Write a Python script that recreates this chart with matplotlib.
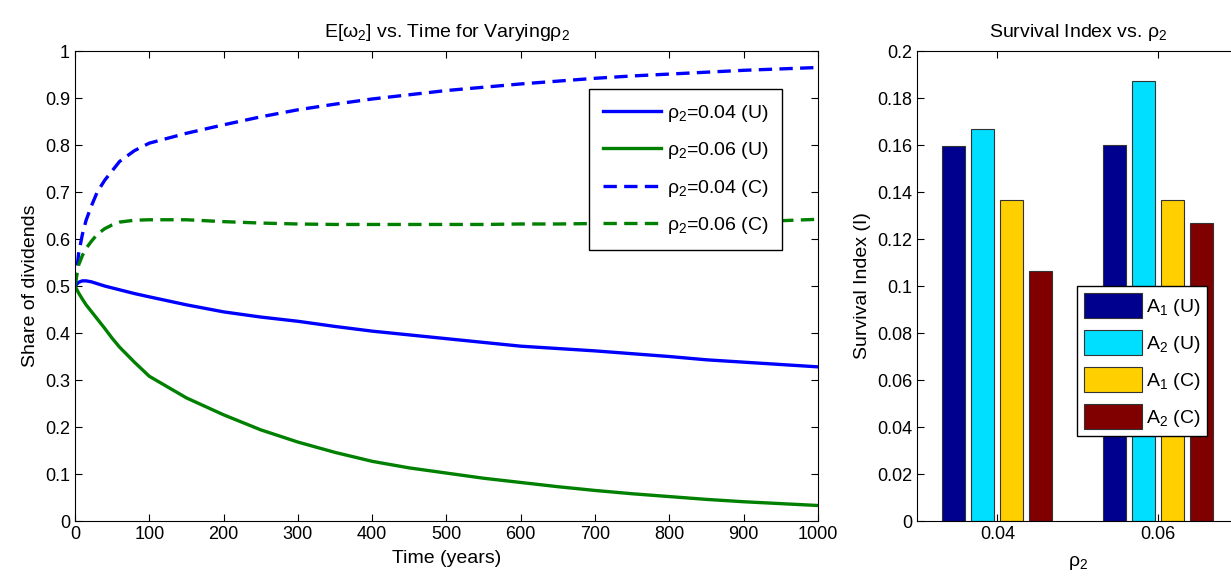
import numpy as np
import matplotlib
matplotlib.use('Agg')
import matplotlib.pyplot as plt
from matplotlib.ticker import FormatStrFormatter, FuncFormatter

plt.rcParams['font.family'] = ['Liberation Sans', 'DejaVu Sans']
plt.rcParams['mathtext.fontset'] = 'custom'
plt.rcParams['mathtext.rm'] = 'Liberation Sans'
plt.rcParams['mathtext.it'] = 'Liberation Sans'
plt.rcParams['mathtext.bf'] = 'Liberation Sans:bold'

# share of dividends E[w2]
t = [0, 5, 10, 15, 22, 30, 40, 50, 60, 80, 100, 150, 200, 250, 300, 350, 400,
     450, 500, 550, 600, 650, 700, 750, 800, 850, 900, 950, 1000]
u04 = [0.50, 0.508, 0.511, 0.511, 0.509, 0.505, 0.500, 0.496, 0.492, 0.484, 0.477,
       0.460, 0.445, 0.434, 0.425, 0.414, 0.404, 0.396, 0.388, 0.380, 0.372, 0.367,
       0.362, 0.356, 0.350, 0.343, 0.338, 0.333, 0.328]
u06 = [0.50, 0.485, 0.472, 0.460, 0.446, 0.430, 0.410, 0.389, 0.370, 0.338, 0.308,
       0.262, 0.226, 0.194, 0.168, 0.146, 0.127, 0.113, 0.102, 0.091, 0.082, 0.073,
       0.065, 0.058, 0.052, 0.046, 0.041, 0.037, 0.033]
c04 = [0.50, 0.57, 0.61, 0.64, 0.67, 0.70, 0.725, 0.745, 0.765, 0.788, 0.804,
       0.825, 0.843, 0.860, 0.875, 0.887, 0.898, 0.907, 0.916, 0.923, 0.930, 0.936,
       0.942, 0.947, 0.951, 0.955, 0.959, 0.962, 0.965]
c06 = [0.50, 0.545, 0.565, 0.580, 0.595, 0.610, 0.622, 0.630, 0.636, 0.640, 0.641,
       0.641, 0.637, 0.634, 0.632, 0.631, 0.631, 0.631, 0.631, 0.631, 0.632, 0.632,
       0.633, 0.633, 0.634, 0.635, 0.637, 0.639, 0.642]
line_labels = [r'$\rho_2$=0.04 (U)', r'$\rho_2$=0.06 (U)',
               r'$\rho_2$=0.04 (C)', r'$\rho_2$=0.06 (C)']

# survival index per rho2
rho = [0.04, 0.06]
bar_labels = [r'A$_1$ (U)', r'A$_2$ (U)', r'A$_1$ (C)', r'A$_2$ (C)']
surv = [[0.1596, 0.1600],
        [0.1667, 0.1872],
        [0.1364, 0.1364],
        [0.1065, 0.1268]]
bar_colors = ['#00008f', '#00dfff', '#ffcf00', '#800000']

fig = plt.figure(figsize=(12.31, 5.8), dpi=100)
fs_tick = 13
fs = 14

# left panel
ax = fig.add_axes([0.0609, 0.1017, 0.6036, 0.8103])
ax.plot(t, u04, color='#0000ff', lw=2.4, label=line_labels[0])
ax.plot(t, u06, color='#008000', lw=2.4, label=line_labels[1])
ax.plot(t, c04, color='#0000ff', lw=2.4, ls=(0, (4, 2.2)), label=line_labels[2])
ax.plot(t, c06, color='#008000', lw=2.4, ls=(0, (4, 2.2)), label=line_labels[3])
ax.set_xlim(0, 1000)
ax.set_ylim(0, 1)
ax.set_xticks(np.arange(0, 1001, 100))
ax.set_yticks(np.arange(0, 1.01, 0.1))
ax.yaxis.set_major_formatter(FuncFormatter(lambda v, p: '%g' % round(v, 2)))
ax.tick_params(direction='in', top=True, right=True, labelsize=fs_tick, length=5)
ax.set_xlabel('Time (years)', fontsize=fs, labelpad=5)
ax.set_ylabel('Share of dividends', fontsize=fs, labelpad=4)
ax.set_title(r'E[$\omega_2$] vs. Time for Varying$\rho_2$', fontsize=fs, pad=10)
leg = ax.legend(loc='upper right', bbox_to_anchor=(0.952, 0.919), borderaxespad=0,
                fontsize=fs, fancybox=False, edgecolor='black', framealpha=1,
                handlelength=3.0, labelspacing=0.85, borderpad=0.7,
                handletextpad=0.3)
leg.get_frame().set_linewidth(1.0)

# right panel
ax2 = fig.add_axes([0.7449, 0.1017, 0.2612, 0.8103])
w = 0.00286
step = 0.0036
for i in range(4):
    xs = [r + (i - 1.5) * step for r in rho]
    ax2.bar(xs, surv[i], width=w, color=bar_colors[i], edgecolor='#333333',
            linewidth=0.8, label=bar_labels[i])
ax2.set_xlim(0.03, 0.07)
ax2.set_ylim(0, 0.2)
ax2.set_xticks(rho)
ax2.xaxis.set_major_formatter(FormatStrFormatter('%.2f'))
ax2.set_yticks(np.arange(0, 0.201, 0.02))
ax2.yaxis.set_major_formatter(FuncFormatter(lambda v, p: '%g' % round(v, 3)))
ax2.tick_params(direction='in', top=True, right=True, labelsize=fs_tick, length=5)
ax2.set_xlabel(r'$\rho_2$', fontsize=fs, labelpad=8)
ax2.set_ylabel('Survival Index (I)', fontsize=fs, labelpad=4)
ax2.set_title(r'Survival Index vs. $\rho_2$', fontsize=fs, pad=10)
leg2 = ax2.legend(loc='upper left', bbox_to_anchor=(0.498, 0.50), borderaxespad=0,
                  fontsize=fs, fancybox=False, edgecolor='black', framealpha=1,
                  handlelength=3.0, handleheight=1.6, labelspacing=0.62,
                  borderpad=0.35, handletextpad=0.2)
leg2.get_frame().set_linewidth(1.0)

fig.savefig('out.png', dpi=100)
